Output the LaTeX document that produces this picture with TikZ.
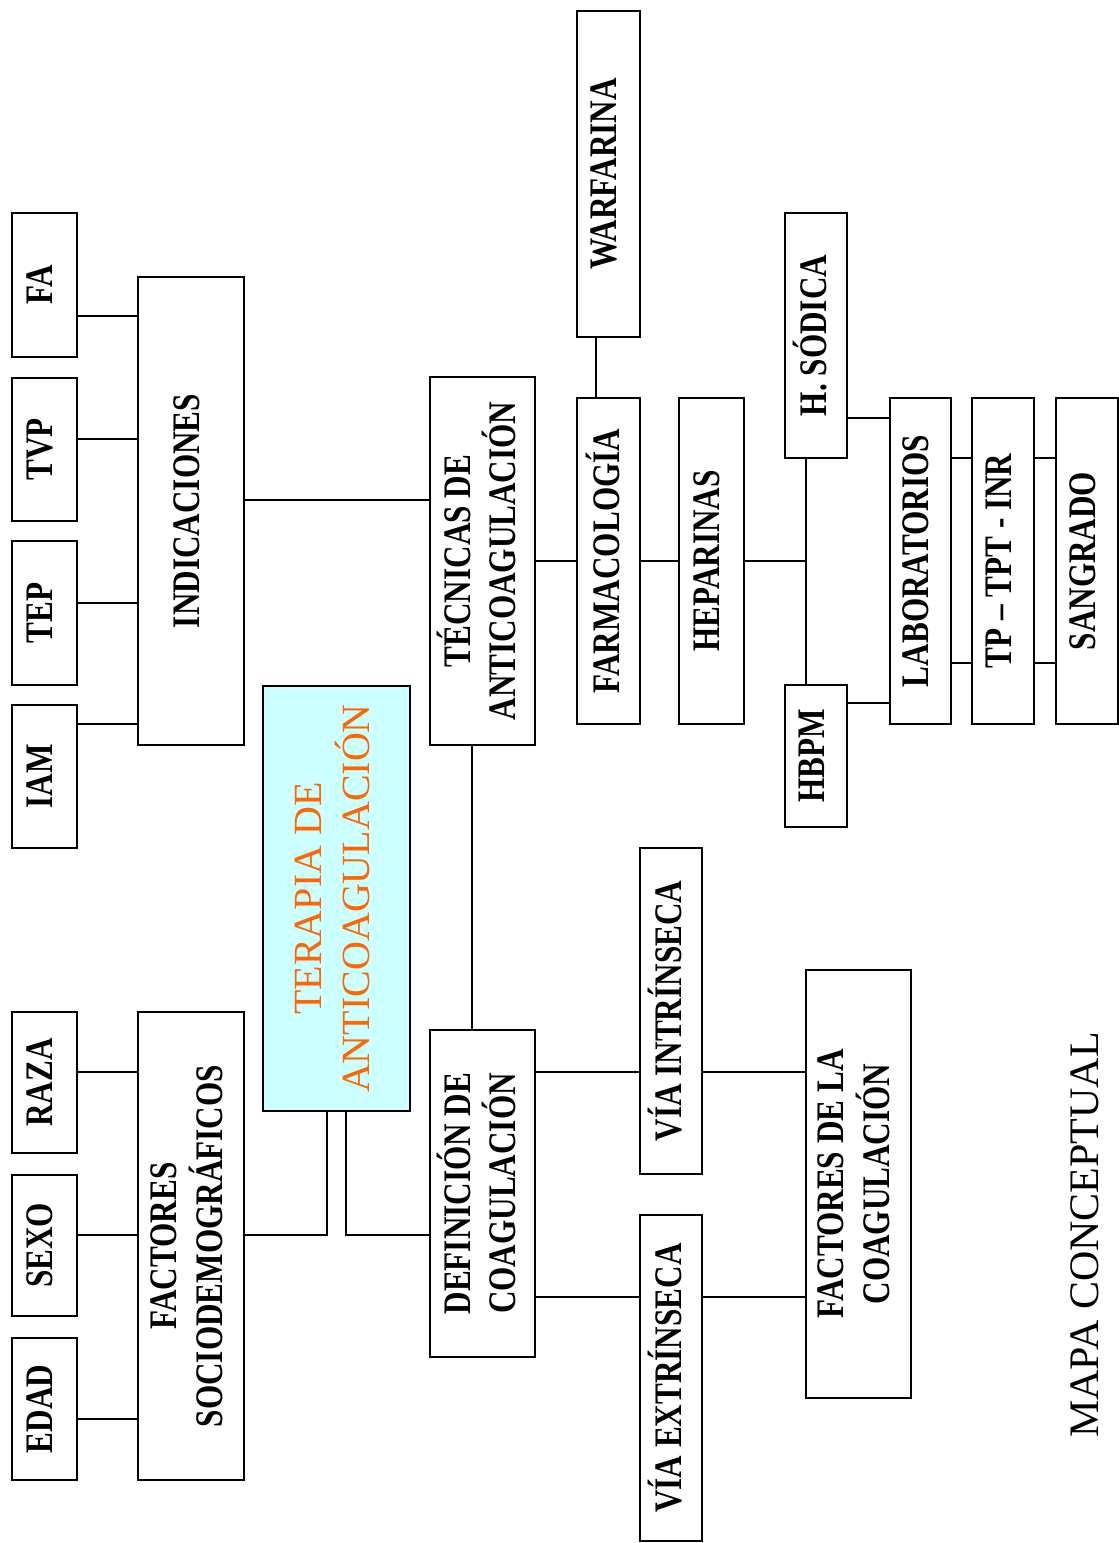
\documentclass[tikz,border=0pt]{standalone}
\usepackage{fontspec}
\setmainfont{Liberation Serif}
\newfontfamily\boxfont{Liberation Serif}[FakeStretch=0.8]
\usepackage{graphicx}
\definecolor{cyanfill}{HTML}{CCFFFF}
\definecolor{orangetext}{HTML}{FF6600}
\newcommand\vtext[1]{\rotatebox{90}{\begin{tabular}{@{}c@{}}#1\end{tabular}}}
\begin{document}
\begin{tikzpicture}[x=1pt,y=-1pt,
  box/.style={draw, line width=2.2pt, inner sep=0pt, align=center, fill=white,
    font=\boxfont\bfseries\fontsize{39}{41}\selectfont},
  conn/.style={line width=2pt}]
\useasboundingbox (0,0) rectangle (1119,1543);
% row coordinates
\foreach \v in {316,418,439,458,500,561,603,663,703,724,1072,1235,1297,1419}
  \coordinate (y\v) at (0,\v);
% left column
\node[box, minimum width=65, minimum height=142] (edad) at (44.5,1409) {\vtext{EDAD}};
\node[box, minimum width=65, minimum height=141] (sexo) at (44.5,1245.5) {\vtext{SEXO}};
\node[box, minimum width=65, minimum height=141] (raza) at (44.5,1082.5) {\vtext{RAZA}};
\node[box, minimum width=65, minimum height=143] (iam) at (44.5,776.5) {\vtext{IAM}};
\node[box, minimum width=65, minimum height=144] (tep) at (44.5,613) {\vtext{TEP}};
\node[box, minimum width=65, minimum height=143] (tvp) at (44.5,449.5) {\vtext{TVP}};
\node[box, minimum width=65, minimum height=144] (fa) at (44.5,285) {\vtext{FA}};
% second column
\node[box, minimum width=106, minimum height=468] (fsoc) at (191,1246) {\vtext{FACTORES\\SOCIODEMOGRÁFICOS}};
\node[box, minimum width=106, minimum height=468] (ind) at (191,511) {\vtext{INDICACIONES}};
% central
\node[draw, line width=2.2pt, fill=cyanfill, inner sep=0pt, minimum width=147, minimum height=425,
  text=orangetext, font=\fontsize{40}{46}\selectfont] (ter) at (336.5,898.5) {\vtext{TERAPIA DE\\ANTICOAGULACIÓN}};
\node[box, minimum width=105, minimum height=368] (tec) at (482.5,561) {\vtext{TÉCNICAS DE\\ANTICOAGULACIÓN}};
\node[box, minimum width=105, minimum height=327] (def) at (482.5,1193.5) {\vtext{DEFINICIÓN DE\\COAGULACIÓN}};
% pharmacology
\node[box, minimum width=63, minimum height=326] (farm) at (608.5,561) {\vtext{FARMACOLOGÍA}};
\node[box, minimum width=63, minimum height=326] (warf) at (608.5,174) {\vtext{WARFARINA}};
\node[box, minimum width=65, minimum height=326] (hep) at (711.5,561) {\vtext{HEPARINAS}};
\node[box, minimum width=62, minimum height=245] (hsod) at (816,335.5) {\vtext{H. SÓDICA}};
\node[box, minimum width=62, minimum height=142] (hbpm) at (816,756) {\vtext{HBPM}};
\node[box, minimum width=61, minimum height=326] (lab) at (920.5,561) {\vtext{LABORATORIOS}};
\node[box, minimum width=62, minimum height=326] (tp) at (1003,561) {\vtext{TP – TPT - INR}};
\node[box, minimum width=62, minimum height=326] (sang) at (1087,561) {\vtext{SANGRADO}};
% coagulation
\node[box, minimum width=62, minimum height=326] (vint) at (671,1011) {\vtext{VÍA INTRÍNSECA}};
\node[box, minimum width=62, minimum height=326] (vext) at (671,1378) {\vtext{VÍA EXTRÍNSECA}};
\node[box, minimum width=105, minimum height=428] (fcoag) at (858.5,1184) {\vtext{FACTORES DE LA\\COAGULACIÓN}};
% title
\node[inner sep=0pt, font=\fontsize{42}{46}\selectfont] (mapa) at (1085,1235) {\rotatebox{90}{MAPA CONCEPTUAL}};
% connectors
\draw[conn] (edad.east |- y1419) -- (fsoc.west |- y1419);
\draw[conn] (sexo.east |- y1235) -- (fsoc.west |- y1235);
\draw[conn] (raza.east |- y1072) -- (fsoc.west |- y1072);
\draw[conn] (iam.east |- y724) -- (ind.west |- y724);
\draw[conn] (tep.east |- y603) -- (ind.west |- y603);
\draw[conn] (tvp.east |- y439) -- (ind.west |- y439);
\draw[conn] (fa.east |- y316) -- (ind.west |- y316);
\draw[conn] (fsoc.east |- y1235) -| ([xshift=-9.5pt]ter.south);
\draw[conn] ([xshift=9.5pt]ter.south) |- (def.west |- y1235);
\draw[conn] (ind.east |- y500) -- (tec.west |- y500);
\draw[conn] ([xshift=-10.5pt]tec.south) -- ([xshift=-10.5pt]tec.south |- def.north);
\draw[conn] (tec.east |- y561) -- (farm.west |- y561);
\draw[conn] (farm.east |- y561) -- (hep.west |- y561);
\draw[conn] (hep.east |- y561) -- ([xshift=-10pt]hsod.south |- y561);
\draw[conn] ([xshift=-10pt]hsod.south) -- ([xshift=-10pt]hsod.south |- hbpm.north);
\draw[conn] ([xshift=-12.5pt]farm.north) -- ([xshift=-12.5pt]farm.north |- warf.south);
\draw[conn] (hsod.east |- y418) -- (lab.west |- y418);
\draw[conn] (hbpm.east |- y703) -- (lab.west |- y703);
\draw[conn] (lab.east |- y458) -- (tp.west |- y458);
\draw[conn] (lab.east |- y663) -- (tp.west |- y663);
\draw[conn] (tp.east |- y458) -- (sang.west |- y458);
\draw[conn] (tp.east |- y663) -- (sang.west |- y663);
\draw[conn] (def.east |- y1072) -- (vint.west |- y1072);
\draw[conn] (vint.east |- y1072) -- (fcoag.west |- y1072);
\draw[conn] (def.east |- y1297) -- (vext.west |- y1297);
\draw[conn] (vext.east |- y1297) -- (fcoag.west |- y1297);
\end{tikzpicture}
\end{document}
